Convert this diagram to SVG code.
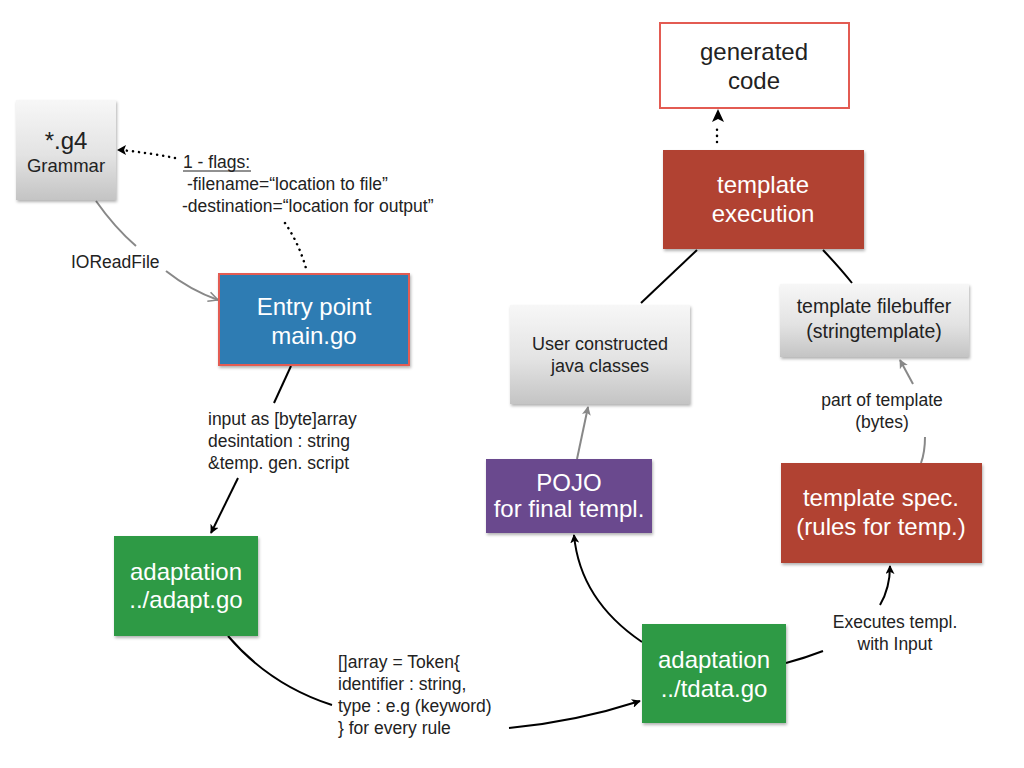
<svg xmlns="http://www.w3.org/2000/svg" width="1024" height="768" viewBox="0 0 1024 768">
<defs>
<linearGradient id="gray" x1="0" y1="0" x2="0" y2="1">
<stop offset="0" stop-color="#f7f7f7"/>
<stop offset="0.55" stop-color="#e3e3e3"/>
<stop offset="1" stop-color="#c4c4c4"/>
</linearGradient>
<filter id="sh" x="-10%" y="-10%" width="125%" height="130%">
<feDropShadow dx="1" dy="2" stdDeviation="1.5" flood-color="#000" flood-opacity="0.3"/>
</filter>
<marker id="ab" viewBox="0 0 10 10" refX="9" refY="5" markerWidth="9" markerHeight="9" orient="auto" markerUnits="userSpaceOnUse">
<path d="M0,0 L10,5 L0,10 L2.5,5 z" fill="#000"/>
</marker>
<marker id="ag" viewBox="0 0 10 10" refX="9" refY="5" markerWidth="9" markerHeight="9" orient="auto" markerUnits="userSpaceOnUse">
<path d="M0,0 L10,5 L0,10 L2.5,5 z" fill="#888"/>
</marker>
<marker id="ao" viewBox="0 0 10 10" refX="9" refY="5" markerWidth="12" markerHeight="12" orient="auto" markerUnits="userSpaceOnUse">
<path d="M1,1 L9,5 L1,9" fill="none" stroke="#888" stroke-width="1.3"/>
</marker>
</defs>
<style>
text{font-family:"Liberation Sans",Arial,sans-serif;}
.w{fill:#fff;font-size:24px;text-anchor:middle;}
.d{fill:#222;text-anchor:middle;}
.l{fill:#222;font-size:17.5px;}
.blk{fill:none;stroke:#000;stroke-width:2;}
.gry{fill:none;stroke:#888;stroke-width:2;}
.dot{fill:none;stroke:#000;stroke-width:2.5;stroke-dasharray:0.1 6;stroke-linecap:round;}
</style>
<rect width="1024" height="768" fill="#fff"/>

<g id="connectors">
<path class="dot" d="M175,158 Q150,153 121,150"/>
<path d="M117,150 L126,145 L124,150 L126,155 z" fill="#000"/>
<path class="dot" d="M285,223 Q300,245 307,272"/>
<path class="gry" d="M96,201 Q115,228 136,246"/>
<path class="gry" d="M166,271 Q190,290 218,300" marker-end="url(#ao)"/>
<path class="blk" d="M291,366 L274,403"/>
<path class="blk" d="M238,478 L211,533" marker-end="url(#ab)"/>
<path class="blk" d="M228,636 Q270,685 332,705"/>
<path class="blk" d="M509,728 Q575,722 640,701" marker-end="url(#ab)"/>
<path class="blk" d="M642,642 Q580,600 574,535" marker-end="url(#ab)"/>
<path class="gry" d="M577,459 L588,407" marker-end="url(#ag)"/>
<path class="blk" d="M697,250 L641,303"/>
<path class="blk" d="M823,250 Q840,268 852,283"/>
<path class="gry" d="M913,384 L900,360" marker-end="url(#ag)"/>
<path class="gry" d="M925,437 Q925,452 921,463"/>
<path class="blk" d="M786,663 Q805,658 823,651"/>
<path class="blk" d="M880,605 Q890,588 890,566" marker-end="url(#ab)"/>
<path class="dot" d="M717,142 L717,124"/>
<path d="M718,109 L724,122 L718,119 L712,122 z" fill="#000"/>
</g>

<g id="grammar">
<rect x="16" y="100" width="100" height="100" fill="url(#gray)" filter="url(#sh)"/>
<text class="d" x="66" y="149" font-size="24">*.g4</text>
<text class="d" x="66" y="172" font-size="18.5">Grammar</text>
</g>

<g id="flags-label">
<text class="l" x="183" y="168">1 - flags:</text>
<line x1="183" y1="171" x2="251" y2="171" stroke="#222" stroke-width="1"/>
<text class="l" x="187" y="190">-filename=“location to file”</text>
<text class="l" x="182" y="212">-destination=“location for output”</text>
</g>

<g id="ioreadfile-label">
<text class="l" x="71" y="268">IOReadFile</text>
</g>

<g id="entry">
<rect x="219" y="274" width="190" height="91" fill="#2f7cb3" stroke="#e35b52" stroke-width="2" filter="url(#sh)"/>
<text class="w" x="314" y="315">Entry point</text>
<text class="w" x="314" y="344">main.go</text>
</g>

<g id="input-label">
<text class="l" x="208" y="425">input as [byte]array</text>
<text class="l" x="208" y="447">desintation : string</text>
<text class="l" x="208" y="469">&amp;temp. gen. script</text>
</g>

<g id="adapt">
<rect x="114" y="536" width="144" height="100" fill="#2f9a44" filter="url(#sh)"/>
<text class="w" x="186" y="580">adaptation</text>
<text class="w" x="186" y="608">../adapt.go</text>
</g>

<g id="token-label">
<text class="l" x="338" y="668">[]array = Token{</text>
<text class="l" x="338" y="690">identifier : string,</text>
<text class="l" x="338" y="712">type : e.g (keyword)</text>
<text class="l" x="338" y="734">} for every rule</text>
</g>

<g id="tdata">
<rect x="642" y="624" width="144" height="99" fill="#2f9a44" filter="url(#sh)"/>
<text class="w" x="714" y="668">adaptation</text>
<text class="w" x="714" y="697">../tdata.go</text>
</g>

<g id="pojo">
<rect x="486" y="459" width="166" height="74" fill="#6a4a8e" filter="url(#sh)"/>
<text class="w" x="569" y="491" font-size="17.5">POJO</text>
<text class="w" x="569" y="517" font-size="17.5">for final templ.</text>
</g>

<g id="java">
<rect x="510" y="305" width="180" height="99" fill="url(#gray)" filter="url(#sh)"/>
<text class="d" x="600" y="350" font-size="18">User constructed</text>
<text class="d" x="600" y="372" font-size="18">java classes</text>
</g>

<g id="exec">
<rect x="663" y="150" width="201" height="99" fill="#b14232" filter="url(#sh)"/>
<text class="w" x="763" y="193">template</text>
<text class="w" x="763" y="222">execution</text>
</g>

<g id="generated">
<rect x="660" y="23" width="189" height="85" fill="#fff" stroke="#e35b52" stroke-width="2"/>
<text class="d" x="754" y="60" font-size="24" fill="#111">generated</text>
<text class="d" x="754" y="89" font-size="24" fill="#111">code</text>
</g>

<g id="filebuffer">
<rect x="780" y="284" width="189" height="73" fill="url(#gray)" filter="url(#sh)"/>
<text class="d" x="874" y="313" font-size="19.5">template filebuffer</text>
<text class="d" x="874" y="338" font-size="19.5">(stringtemplate)</text>
</g>

<g id="part-label">
<text class="d" x="882" y="406" font-size="17.5">part of template</text>
<text class="d" x="882" y="428" font-size="17.5">(bytes)</text>
</g>

<g id="spec">
<rect x="781" y="463" width="201" height="100" fill="#b14232" filter="url(#sh)"/>
<text class="w" x="881" y="506">template spec.</text>
<text class="w" x="881" y="535">(rules for temp.)</text>
</g>

<g id="exec-label">
<text class="d" x="895" y="628" font-size="17.5">Executes templ.</text>
<text class="d" x="895" y="650" font-size="17.5">with Input</text>
</g>
</svg>
